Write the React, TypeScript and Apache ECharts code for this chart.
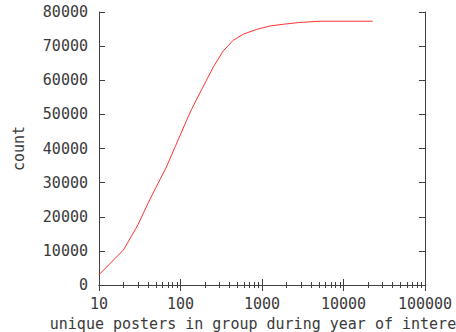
import React, { useEffect, useRef } from "react";
import * as echarts from "echarts";

const posters = [10, 20, 30, 40, 50, 66, 86, 119, 137, 182, 253, 335, 444, 589, 861, 1254, 1823, 2786, 5150, 22800];
const counts = [3000, 10300, 17600, 24000, 28600, 34200, 40500, 48300, 51500, 57300, 63900, 68600, 71700, 73500, 74900, 75900, 76400, 76900, 77300, 77300];
const xLabel = "unique posters in group during year of interest";
const yLabel = "count";

const FONT = "DejaVu Sans Mono";
const TXT = "#3a3a3a";
const AX = "#404040";
const FS = 15;

export default function App() {
  const ref = useRef<HTMLDivElement>(null);
  useEffect(() => {
    const chart = echarts.init(ref.current!, null, { renderer: "svg" });
    const fmt = (v: number) => String(Math.round(v));
    const baseX = {
      type: "log" as const,
      min: 10,
      max: 100000,
      logBase: 10,
      axisLine: { show: true, lineStyle: { color: AX, width: 1 } },
      axisTick: { show: true, inside: true, length: 6, lineStyle: { color: AX } },
      minorTick: { show: true, splitNumber: 9, length: 3, lineStyle: { color: AX } },
      splitLine: { show: false },
      minorSplitLine: { show: false },
    };
    const baseY = {
      type: "value" as const,
      min: 0,
      max: 80000,
      interval: 10000,
      axisLine: { show: true, lineStyle: { color: AX, width: 1 } },
      axisTick: { show: true, inside: true, length: 6, lineStyle: { color: AX } },
      splitLine: { show: false },
    };
    chart.setOption({
      animation: false,
      backgroundColor: "#ffffff",
      grid: { left: 99, right: 31, top: 12, bottom: 47, containLabel: false, outerBoundsMode: "none" },
      xAxis: [
        {
          ...baseX,
          position: "bottom",
          name: xLabel,
          nameLocation: "middle",
          nameGap: 31,
          nameTextStyle: { fontFamily: FONT, fontSize: FS, color: TXT },
          axisLabel: { fontFamily: FONT, fontSize: FS, color: TXT, margin: 11, formatter: fmt },
        },
        { ...baseX, position: "top", axisLabel: { show: false } },
      ],
      yAxis: [
        {
          ...baseY,
          position: "left",
          name: yLabel,
          nameLocation: "middle",
          nameGap: 73,
          nameRotate: 90,
          nameTextStyle: { fontFamily: FONT, fontSize: FS, color: TXT },
          axisLabel: { fontFamily: FONT, fontSize: FS, color: TXT, margin: 11, formatter: fmt },
        },
        { ...baseY, position: "right", axisLabel: { show: false } },
      ],
      series: [
        {
          type: "line",
          xAxisIndex: 0,
          yAxisIndex: 0,
          data: posters.map((p, i) => [p, counts[i]]),
          showSymbol: false,
          lineStyle: { color: "#ff3333", width: 1 },
          smooth: false,
        },
      ],
    });
    return () => chart.dispose();
  }, []);
  return <div ref={ref} style={{ position: "fixed", left: 0, top: 0, width: 456, height: 332 }} />;
}
